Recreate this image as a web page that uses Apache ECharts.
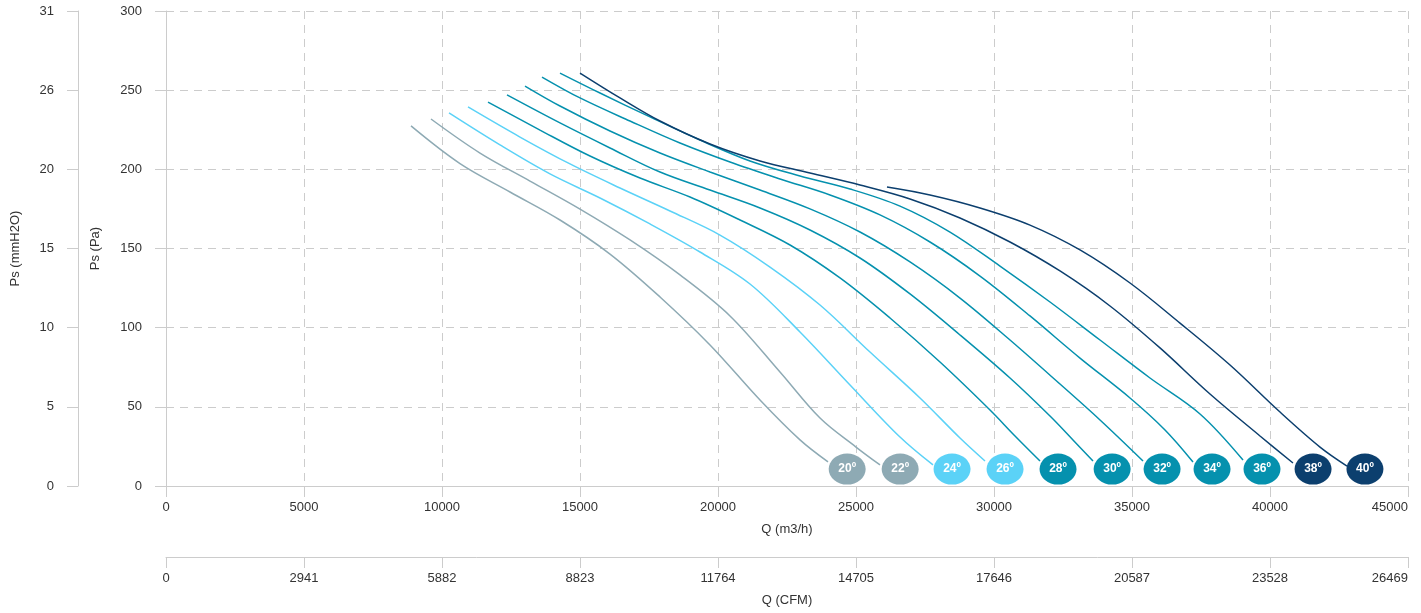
<!DOCTYPE html>
<html><head><meta charset="utf-8">
<script src="https://cdn.jsdelivr.net/npm/echarts@6/dist/echarts.min.js"></script>
<style>html,body{margin:0;padding:0;background:#fff}#c{width:1421px;height:613px}</style>
</head><body><div id="c"></div>
<script>
// ---- data ----
const angleLabels = ['20º','22º','24º','26º','28º','30º','32º','34º','36º','38º','40º'];
const curve20 = [[8877,227.4],[10652,203.6],[12464,185.7],[14275,168.0],[16087,146.5],[17899,119.4],[19710,89.1],[21522,54.3],[22971,29.1],[23986,15.2]];
const curve22 = [[9601,231.8],[11377,210.3],[13188,192.6],[15000,174.9],[16812,155.4],[18623,133.3],[20435,107.4],[22246,72.0],[23696,42.9],[25000,24.6],[25870,13.3]];
const curve24 = [[10254,235.6],[12101,215.4],[13913,197.1],[15725,181.9],[17536,165.5],[19348,147.8],[21159,127.6],[22971,97.3],[24783,63.8],[26594,30.9],[27790,13.3]];
const curve26 = [[10942,239.4],[12826,220.4],[14638,203.4],[16449,188.2],[18261,173.7],[20072,158.5],[21884,138.3],[23696,114.3],[25507,84.6],[27319,55.6],[28768,30.3],[29674,15.8]];
const curve28 = [[11667,242.5],[13551,224.8],[15362,208.4],[17174,194.5],[18986,182.5],[20797,168.0],[22609,152.2],[24420,131.4],[26232,106.1],[28043,78.3],[29855,48.0],[30761,31.6],[31667,15.8]];
const curve30 = [[12355,247.0],[14275,229.3],[16087,213.5],[17899,198.3],[19710,186.9],[21522,175.6],[23333,161.7],[25145,144.0],[26957,121.3],[28768,95.4],[30580,68.2],[32029,44.2],[32862,29.1],[33587,15.8]];
const curve32 = [[13007,252.6],[14275,240.0],[16087,224.2],[17899,210.3],[19710,198.3],[21522,186.9],[23333,175.0],[25145,160.4],[26957,141.5],[28768,118.7],[30580,92.2],[32391,64.4],[33841,41.7],[35399,15.8]];
const curve34 = [[13623,258.3],[15000,245.1],[16812,230.5],[18623,216.6],[20435,204.6],[22246,193.9],[24058,183.8],[25870,171.2],[27681,154.1],[29493,132.6],[31304,107.4],[33116,80.8],[34928,55.6],[36196,35.4],[37210,15.2]];
const curve36 = [[14275,260.8],[15725,248.2],[17536,233.1],[19348,218.5],[21159,205.3],[22971,195.8],[24783,187.6],[26594,176.8],[28406,160.4],[30217,138.9],[32029,116.2],[33841,92.2],[35652,68.2],[37464,45.5],[39022,16.4]];
const curve38 = [[15000,260.8],[16449,245.1],[17899,230.5],[19710,216.0],[21522,205.3],[23333,197.7],[25145,190.1],[26957,181.3],[28768,169.3],[30580,154.1],[32391,135.8],[34203,113.7],[36014,87.2],[37826,58.1],[39638,31.6],[40833,14.5]];
const curve40 = [[26123,188.8],[27681,183.8],[29493,175.6],[31304,164.8],[33116,149.1],[34928,128.2],[36739,102.9],[38551,76.4],[40362,46.7],[41812,24.6],[42790,12.6]];
const labelQ  = [24680,26600,28480,30400,32320,34280,36090,37900,39710,41560,43440];
const labelPs = [10.7,10.7,10.7,10.7,10.7,10.7,10.7,10.7,10.7,10.7,10.7];
const mmH2OLabels = ['0','5','10','15','20','26','31'];

// ---- styles ----
const curves = [curve20,curve22,curve24,curve26,curve28,curve30,curve32,curve34,curve36,curve38,curve40];
const GRAY='#8eaab4', LIGHT='#5bd2f7', TEAL='#0591ae', NAVY='#0c3f6e';
const colors = [GRAY,GRAY,LIGHT,LIGHT,TEAL,TEAL,TEAL,TEAL,TEAL,NAVY,NAVY];
const axisColor = '#cccccc', textColor = '#333333';
const font = 'Liberation Sans, Arial, sans-serif';

const chart = echarts.init(document.getElementById('c'), null, {renderer:'canvas'});
const baseAxis = {
  type:'value',
  nameLocation:'middle',
  nameTextStyle:{color:textColor,fontSize:13,fontFamily:font},
  axisLine:{show:true,onZero:false,lineStyle:{color:axisColor,width:1}},
  axisTick:{show:true,length:11,lineStyle:{color:axisColor}},
  axisLabel:{color:textColor,fontSize:13,fontFamily:font,formatter:(v)=>String(v)}
};
const series = curves.map((d,i)=>({
  type:'line', name:angleLabels[i], data:d, smooth:0.35,
  symbol:'none', lineStyle:{width:1.5,color:colors[i]}, z:2
}));
series.push({
  type:'scatter', z:5,
  data: labelQ.map((q,i)=>({value:[q,labelPs[i]], name:angleLabels[i], itemStyle:{color:colors[i],opacity:1}})),
  symbol:'circle', symbolSize:[37,31],
  label:{show:true,position:'inside',formatter:p=>p.name,color:'#fff',fontWeight:'bold',fontSize:12,fontFamily:font}
});
chart.setOption({
  animation:false,
  grid:{left:166,right:13,top:11,bottom:127,containLabel:false},
  xAxis:[
    Object.assign({}, baseAxis, {min:0,max:45000,interval:5000,position:'bottom',name:'Q (m3/h)',nameGap:37,
      axisLabel:Object.assign({},baseAxis.axisLabel,{margin:15,alignMaxLabel:'right'}),
      splitLine:{show:true,lineStyle:{color:axisColor,type:[8,6],width:1}}}),
    Object.assign({}, baseAxis, {min:0,max:26469,interval:2941,position:'bottom',offset:71,name:'Q (CFM)',nameGap:37,
      axisLabel:Object.assign({},baseAxis.axisLabel,{margin:15,alignMaxLabel:'right'}),
      splitLine:{show:false}})
  ],
  yAxis:[
    Object.assign({}, baseAxis, {min:0,max:300,interval:50,position:'left',name:'Ps (Pa)',nameGap:64,
      axisLabel:Object.assign({},baseAxis.axisLabel,{margin:24}),
      splitLine:{show:true,lineStyle:{color:axisColor,type:[8,6],width:1}}}),
    Object.assign({}, baseAxis, {min:0,max:300,interval:50,position:'left',offset:88,name:'Ps (mmH2O)',nameGap:56,
      axisLabel:Object.assign({},baseAxis.axisLabel,{margin:24,formatter:(v)=>mmH2OLabels[Math.round(v/50)]}),
      splitLine:{show:false}})
  ],
  series: series
});
</script>
</body></html>
